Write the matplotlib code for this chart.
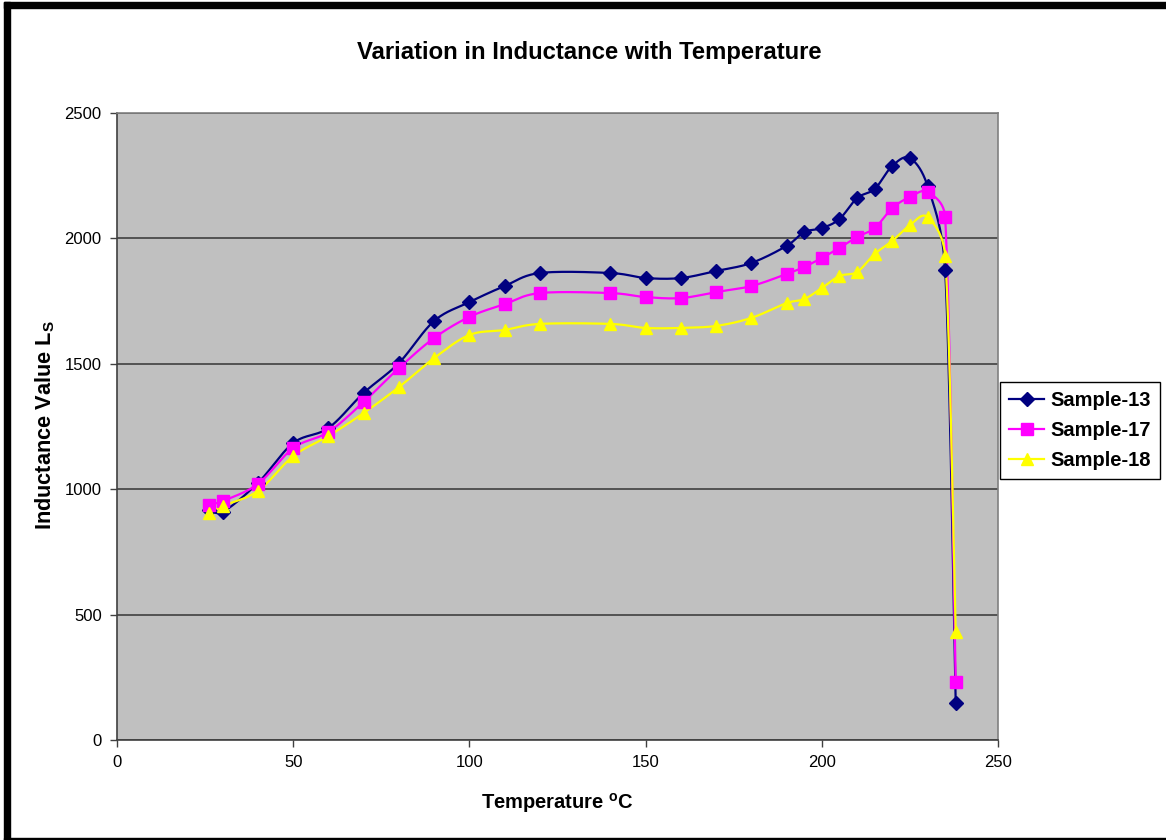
import numpy as np
import matplotlib
matplotlib.use("Agg")
import matplotlib.pyplot as plt
from matplotlib.lines import Line2D
from matplotlib.patches import Rectangle

plt.rcParams['font.family'] = ['Liberation Sans', 'DejaVu Sans']
plt.rcParams['mathtext.fontset'] = 'custom'
plt.rcParams['mathtext.rm'] = 'Liberation Sans:bold'
plt.rcParams['mathtext.bf'] = 'Liberation Sans:bold'

# temperature (deg C) at which each sample was read
temps = [26, 30, 40, 50, 60, 70, 80, 90, 100, 110, 120, 140, 150, 160, 170,
         180, 190, 195, 200, 205, 210, 215, 220, 225, 230, 235, 238]

sample_13 = [917, 909, 1025, 1184, 1244, 1384, 1503, 1671, 1746, 1810, 1862,
             1862, 1842, 1842, 1870, 1902, 1970, 2025, 2041, 2077, 2161, 2197,
             2289, 2320, 2209, 1874, 148]
sample_17 = [937, 953, 1021, 1164, 1228, 1348, 1483, 1603, 1687, 1738, 1782,
             1782, 1766, 1762, 1786, 1810, 1858, 1886, 1922, 1962, 2006, 2041,
             2121, 2165, 2185, 2085, 231]
sample_18 = [905, 933, 993, 1132, 1212, 1304, 1407, 1523, 1615, 1635, 1659,
             1659, 1643, 1643, 1651, 1683, 1742, 1758, 1802, 1850, 1866, 1938,
             1990, 2053, 2085, 1930, 431]

series = [("Sample-13", sample_13, "#000080", "D", 7),
          ("Sample-17", sample_17, "#FF00FF", "s", 8),
          ("Sample-18", sample_18, "#FFFF00", "^", 8.5)]

W, H = 1166, 840
fig = plt.figure(figsize=(W / 100, H / 100), dpi=100)
ax_l, ax_r, ax_t, ax_b = 117, 998, 113, 740
ax = fig.add_axes([ax_l / W, 1 - ax_b / H, (ax_r - ax_l) / W, (ax_b - ax_t) / H])
xmax, ymax = 250, 2500
ax.set_xlim(0, xmax)
ax.set_ylim(0, ymax)

# pixels per data unit, used to smooth in screen space like Excel does
kx = (ax_r - ax_l) / xmax
ky = (ax_b - ax_t) / ymax


def smooth_curve(xs, ys, n=40):
    P = np.column_stack([np.asarray(xs, float) * kx, np.asarray(ys, float) * ky])
    out = [P[0]]
    t = np.linspace(0, 1, n)[1:, None]
    for i in range(len(P) - 1):
        p0 = P[i - 1] if i > 0 else P[i]
        p1, p2 = P[i], P[i + 1]
        p3 = P[i + 2] if i + 2 < len(P) else P[i + 1]
        d12 = np.linalg.norm(p2 - p1)
        d02 = np.linalg.norm(p2 - p0)
        d13 = np.linalg.norm(p3 - p1)
        f0 = 1 / 6 if d02 / 6 <= d12 / 2 or d02 == 0 else d12 / (2 * d02)
        f3 = 1 / 6 if d13 / 6 <= d12 / 2 or d13 == 0 else d12 / (2 * d13)
        c1 = p1 + f0 * (p2 - p0)
        c2 = p2 - f3 * (p3 - p1)
        pts = ((1 - t) ** 3) * p1 + 3 * ((1 - t) ** 2) * t * c1 + 3 * (1 - t) * t ** 2 * c2 + t ** 3 * p2
        out.extend(pts)
    out = np.array(out)
    return out[:, 0] / kx, out[:, 1] / ky


ax.set_facecolor("#C0C0C0")
ax.yaxis.grid(True, color="#404040", linewidth=1.2)
ax.set_axisbelow(True)

handles = []
for name, vals, color, mk, ms in series:
    sx, sy = smooth_curve(temps, vals)
    ax.plot(sx, sy, color=color, linewidth=1.6, zorder=3, clip_on=False)
    ax.plot(temps, vals, linestyle="none", marker=mk, markersize=ms,
            color=color, markeredgecolor=color, zorder=4, clip_on=False)
    handles.append(Line2D([], [], color=color, linewidth=1.6, marker=mk,
                          markersize=ms, markeredgecolor=color, label=name))

ax.set_xticks(np.arange(0, 251, 50))
ax.set_yticks(np.arange(0, 2501, 500))
ax.tick_params(axis="both", direction="out", length=5, width=1, color="#404040",
               labelsize=12, pad=6)
for s in ["left", "bottom"]:
    ax.spines[s].set_color("#404040")
    ax.spines[s].set_linewidth(1.2)
for s in ["top", "right"]:
    ax.spines[s].set_color("#808080")
    ax.spines[s].set_linewidth(1.2)

fig.text(589 / W, 1 - 52 / H, "Variation in Inductance with Temperature",
         ha="center", va="center", fontsize=17.2, fontweight="bold")
fig.text(557 / W, 1 - 803 / H, r"Temperature $^{\mathregular{o}}$C",
         ha="center", va="center", fontsize=14.5, fontweight="bold")
fig.text(45 / W, 1 - 425 / H, r"Inductance Value L$_{\mathregular{S}}$",
         ha="center", va="center", rotation=90, fontsize=15.7, fontweight="bold")

leg = fig.legend(handles=handles, loc="upper left",
                 bbox_to_anchor=(1000 / W, 1 - 382 / H), borderaxespad=0,
                 fancybox=False, edgecolor="black", framealpha=1,
                 prop={"weight": "bold", "size": 14.5}, handlelength=1.75,
                 handletextpad=0.3, labelspacing=0.54, borderpad=0.45)
leg.get_frame().set_linewidth(1.0)

# outer frame of the chart sheet
fig.patches.append(Rectangle((4 / W, 0), 6 / W, 1 - 2 / H, transform=fig.transFigure,
                             color="black", zorder=10))
fig.patches.append(Rectangle((4 / W, 1 - 8 / H), 1 - 4 / W, 6 / H,
                             transform=fig.transFigure, color="black", zorder=10))
fig.patches.append(Rectangle((4 / W, 0), 1 - 4 / W, 2 / H, transform=fig.transFigure,
                             color="black", zorder=10))

fig.savefig("out.png", dpi=100)
